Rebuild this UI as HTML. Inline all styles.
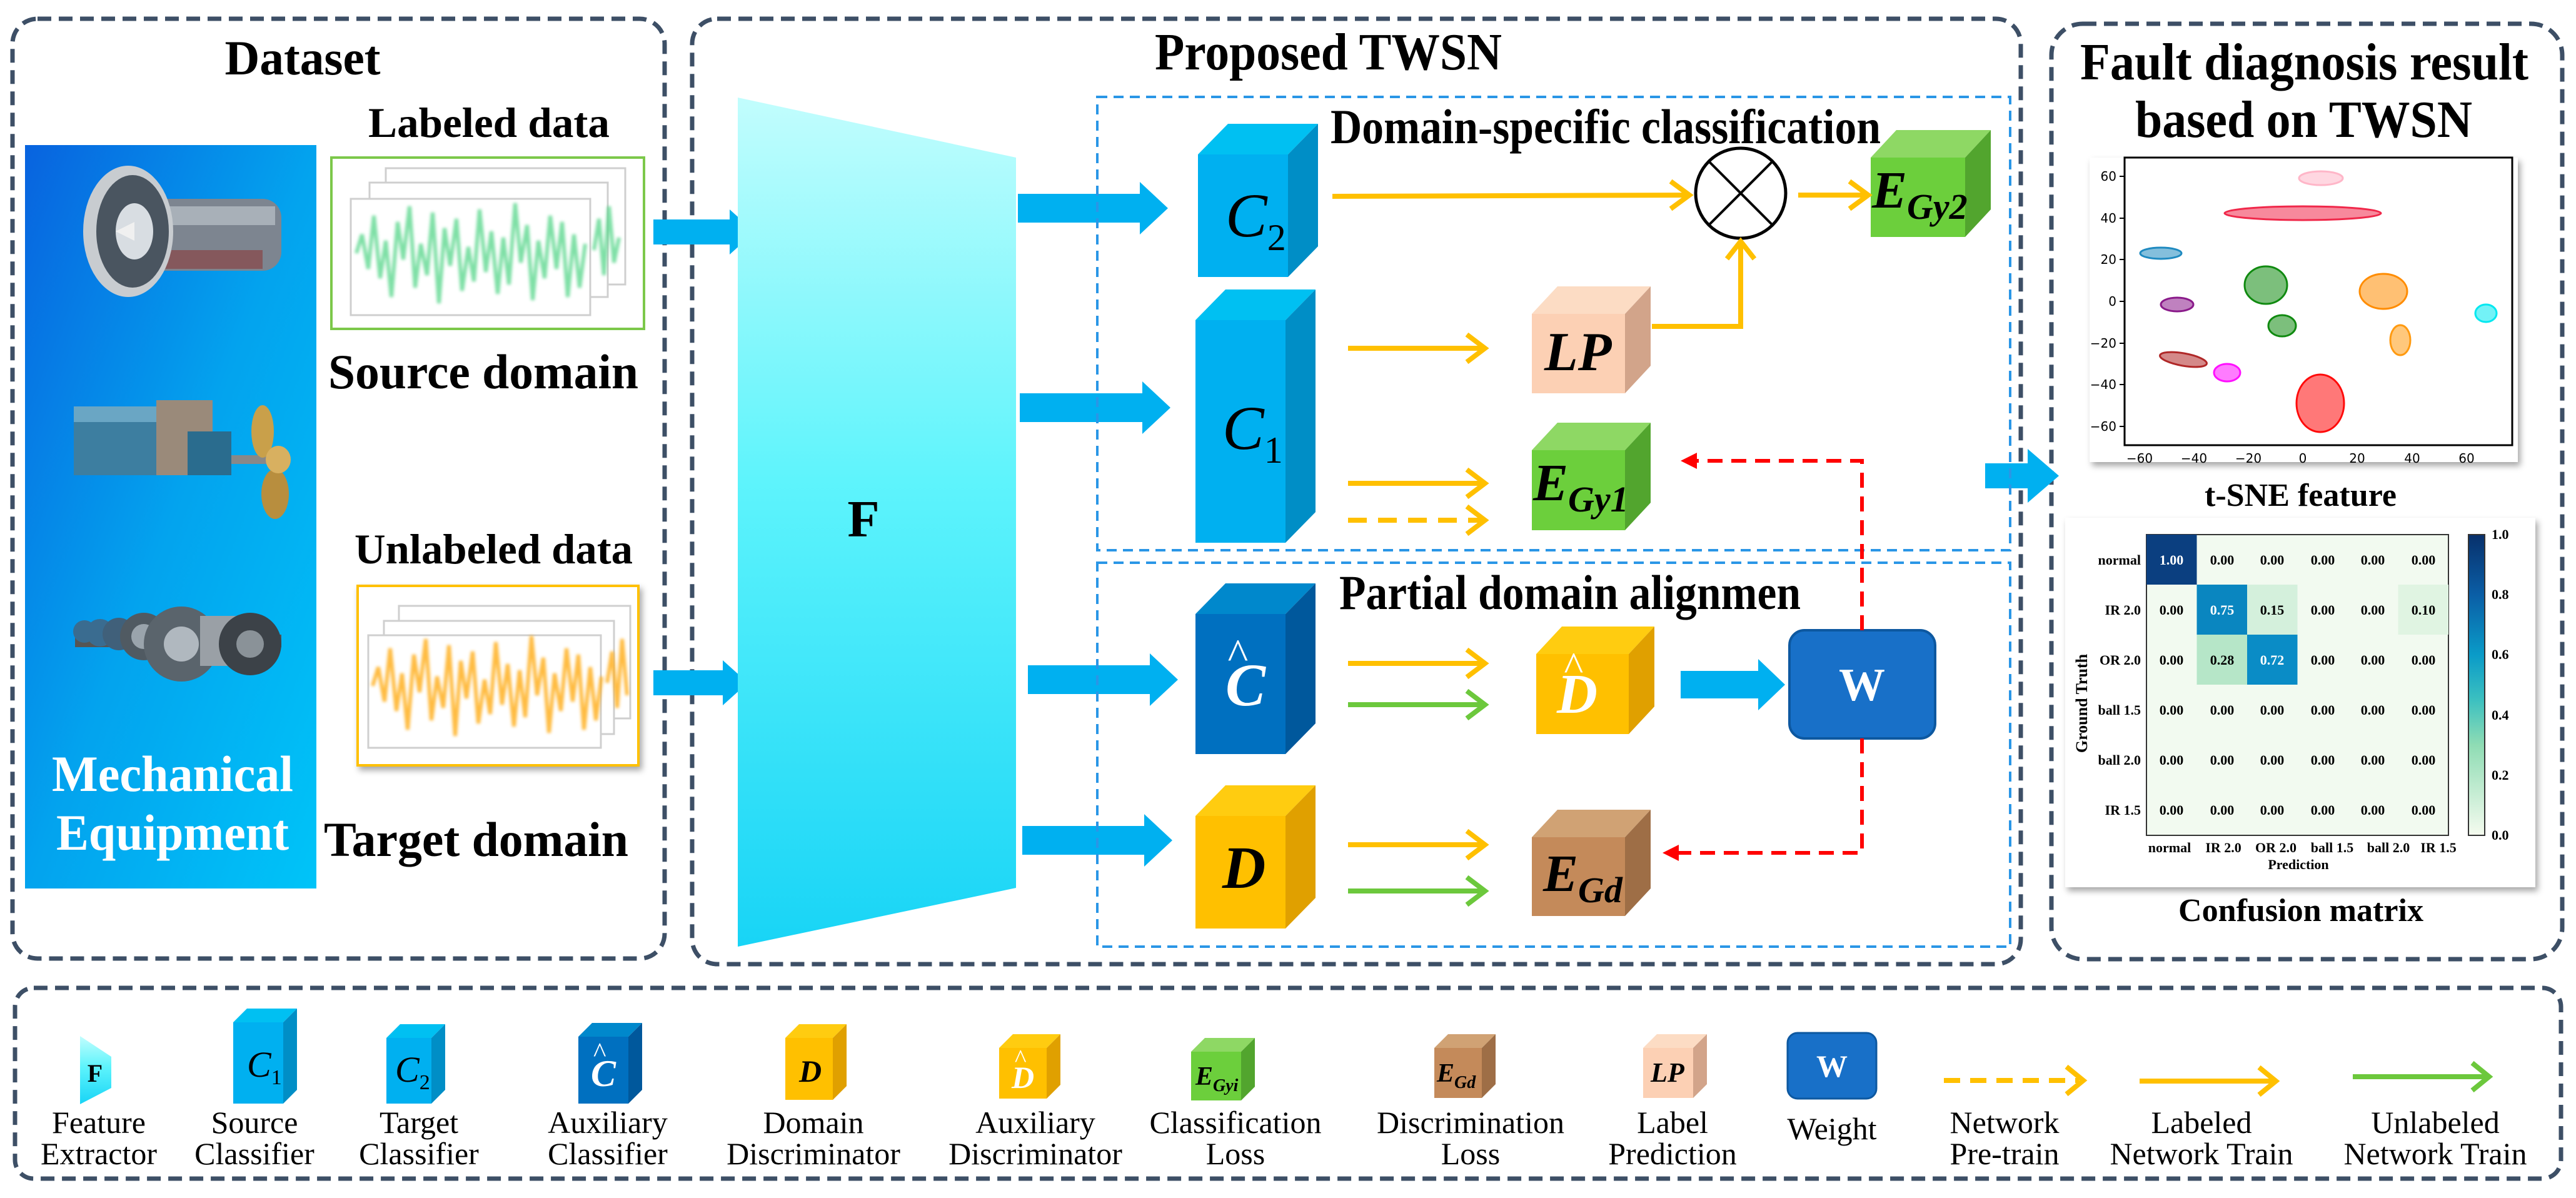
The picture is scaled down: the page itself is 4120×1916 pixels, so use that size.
<!DOCTYPE html>
<html><head><meta charset="utf-8"><style>
html,body{margin:0;padding:0;background:#fff;}
svg{display:block;}
</style></head><body>
<svg width="4120" height="1916" viewBox="0 0 4120 1916" xmlns="http://www.w3.org/2000/svg" font-family="Liberation Serif, serif">
<defs>
<linearGradient id="mech" x1="0" y1="0" x2="1" y2="1"><stop offset="0" stop-color="#0863df"/><stop offset="0.5" stop-color="#03a3ee"/><stop offset="1" stop-color="#00c4f8"/></linearGradient>
<linearGradient id="fg" x1="0" y1="0" x2="0" y2="1"><stop offset="0" stop-color="#c2fdfd"/><stop offset="0.45" stop-color="#5ef4fc"/><stop offset="1" stop-color="#18d4f6"/></linearGradient>
<linearGradient id="cb" x1="0" y1="0" x2="0" y2="1"><stop offset="0" stop-color="#08306b"/><stop offset="0.2" stop-color="#0a5ea6"/><stop offset="0.4" stop-color="#0a9bc8"/><stop offset="0.55" stop-color="#3cc0c0"/><stop offset="0.7" stop-color="#8fdcb4"/><stop offset="1" stop-color="#f5fbef"/></linearGradient>
<filter id="bl"><feGaussianBlur stdDeviation="2.5"/></filter>
<filter id="sh"><feDropShadow dx="4" dy="6" stdDeviation="5" flood-color="#000" flood-opacity="0.35"/></filter>
</defs>

<!-- panels -->
<g fill="none" stroke="#3d4f66" stroke-width="7" stroke-dasharray="22 12">
<rect x="20" y="30" width="1043" height="1503" rx="40"/>
<rect x="1107" y="30" width="2125" height="1512" rx="40"/>
<rect x="3281" y="38" width="817" height="1496" rx="50"/>
<rect x="24" y="1580" width="4072" height="305" rx="30"/>
</g>

<!-- Dataset -->
<text x="484" y="119" font-size="78" font-weight="bold" text-anchor="middle" textLength="249" lengthAdjust="spacingAndGlyphs">Dataset</text>
<rect x="40" y="232" width="466" height="1189" fill="url(#mech)"/>
<!-- turbine -->
<g>
<rect x="220" y="318" width="230" height="115" rx="30" fill="#7d8590"/>
<rect x="240" y="330" width="200" height="30" fill="#a8b0b8"/>
<rect x="260" y="400" width="160" height="30" fill="#8a3a3a" opacity="0.6"/>
<ellipse cx="205" cy="370" rx="72" ry="105" fill="#c8ccd0"/>
<ellipse cx="212" cy="370" rx="58" ry="90" fill="#4a5560"/>
<ellipse cx="215" cy="370" rx="30" ry="45" fill="#d8dde2"/>
<polygon points="185,370 215,355 215,385" fill="#f0f0f0"/>
</g>
<!-- ship engine -->
<g>
<rect x="118" y="650" width="190" height="110" fill="#3d7ea0"/>
<rect x="118" y="650" width="190" height="25" fill="#6aa6c4"/>
<rect x="250" y="640" width="90" height="120" fill="#9a8a7a"/>
<rect x="300" y="690" width="70" height="70" fill="#2a6c8e"/>
<rect x="370" y="728" width="90" height="14" fill="#888"/>
<ellipse cx="420" cy="690" rx="18" ry="42" fill="#c9a04a"/>
<ellipse cx="440" cy="790" rx="22" ry="40" fill="#b88e3e"/>
<ellipse cx="445" cy="735" rx="20" ry="22" fill="#d8b060"/>
</g>
<!-- train wheels -->
<g>
<rect x="120" y="1015" width="330" height="20" fill="#555"/>
<circle cx="135" cy="1010" r="18" fill="#3a6c90"/><circle cx="160" cy="1012" r="22" fill="#3a6c90"/><circle cx="190" cy="1014" r="26" fill="#40607a"/>
<circle cx="230" cy="1018" r="38" fill="#505a62"/><circle cx="230" cy="1018" r="20" fill="#9aa4ac"/>
<circle cx="290" cy="1030" r="60" fill="#5a646c"/><circle cx="290" cy="1030" r="28" fill="#b0b8bf"/>
<rect x="320" y="985" width="70" height="80" fill="#9aa0a6"/>
<circle cx="400" cy="1030" r="50" fill="#3c4248"/><circle cx="400" cy="1030" r="22" fill="#8a9298"/>
</g>
<text x="83" y="1265" font-size="82" font-weight="bold" fill="#fff" textLength="386" lengthAdjust="spacingAndGlyphs">Mechanical</text>
<text x="90" y="1359" font-size="82" font-weight="bold" fill="#fff" textLength="372" lengthAdjust="spacingAndGlyphs">Equipment</text>

<text x="589" y="219" font-size="68" font-weight="bold" textLength="386" lengthAdjust="spacingAndGlyphs">Labeled data</text>
<rect x="530" y="252" width="500" height="274" fill="#fff" stroke="#7cc84a" stroke-width="4"/>
<g fill="#fff" stroke="#cfcfcf" stroke-width="3">
<rect x="617" y="269" width="383" height="186"/><rect x="591" y="292" width="381" height="183"/><rect x="561" y="318" width="383" height="186"/>
</g>
<g id="sig" fill="none" stroke="#5fd890" stroke-width="6" filter="url(#bl)" opacity="0.8">
<polyline points="570,405 579,375 589,430 598,345 608,445 617,385 626,475 636,355 645,415 655,330 664,460 673,390 683,440 692,340 702,485 711,365 720,425 730,350 739,465 749,395 758,450 767,335 777,435 786,370 796,470 805,380 814,455 824,325 833,420 843,360 852,480 861,385 871,445 880,345 890,430 899,355 908,475 918,375 927,460 936,390"/>
<polyline points="950,400 958,350 966,440 974,330 982,420 990,380"/>
</g>
<text x="525" y="621" font-size="78" font-weight="bold" textLength="496" lengthAdjust="spacingAndGlyphs">Source domain</text>

<text x="567" y="901" font-size="68" font-weight="bold" textLength="445" lengthAdjust="spacingAndGlyphs">Unlabeled data</text>
<rect x="572" y="937" width="449" height="287" fill="#fff" stroke="#ffc000" stroke-width="4" filter="url(#sh)"/>
<g fill="#fff" stroke="#cfcfcf" stroke-width="3">
<rect x="638" y="969" width="370" height="180"/><rect x="614" y="993" width="368" height="181"/><rect x="589" y="1016" width="372" height="180"/>
</g>
<g fill="none" stroke="#ffb020" stroke-width="6" filter="url(#bl)" opacity="0.85" transform="translate(26,692)">
<polyline points="570,405 579,375 589,430 598,345 608,445 617,385 626,475 636,355 645,415 655,330 664,460 673,390 683,440 692,340 702,485 711,365 720,425 730,350 739,465 749,395 758,450 767,335 777,435 786,370 796,470 805,380 814,455 824,325 833,420 843,360 852,480 861,385 871,445 880,345 890,430 899,355 908,475 918,375 927,460 936,390"/>
<polyline points="945,400 953,350 961,440 969,330 977,420"/>
</g>
<text x="518" y="1369" font-size="78" font-weight="bold" textLength="487" lengthAdjust="spacingAndGlyphs">Target domain</text>

<!-- block arrows -->
<g fill="#00b0f0">
<polygon points="1045,351 1167,351 1167,335 1207,371 1167,407 1167,391 1045,391"/>
<polygon points="1045,1072 1156,1072 1156,1056 1196,1092 1156,1128 1156,1112 1045,1112"/>
<polygon points="1628,310 1823,310 1823,291 1868,333 1823,375 1823,356 1628,356"/>
<polygon points="1631,629 1827,629 1827,610 1872,652 1827,694 1827,675 1631,675"/>
<polygon points="1644,1064 1839,1064 1839,1045 1884,1087 1839,1129 1839,1110 1644,1110"/>
<polygon points="1635,1321 1830,1321 1830,1302 1875,1344 1830,1386 1830,1367 1635,1367"/>
<polygon points="2688,1073 2812,1073 2812,1054 2855,1095 2812,1136 2812,1117 2688,1117"/>
<polygon points="3175,741 3243,741 3243,718 3293,761 3243,804 3243,781 3175,781"/>
</g>

<!-- Proposed -->
<text x="1847" y="111" font-size="84" font-weight="bold" textLength="555" lengthAdjust="spacingAndGlyphs">Proposed TWSN</text>
<polygon points="1180,156 1625,252 1625,1420 1180,1514" fill="url(#fg)"/>
<text x="1381" y="858" font-size="84" font-weight="bold" text-anchor="middle">F</text>

<rect x="1755" y="155" width="1460" height="725" fill="none" stroke="#2a96e6" stroke-width="4" stroke-dasharray="16 10"/>
<rect x="1755" y="900" width="1460" height="614" fill="none" stroke="#2a96e6" stroke-width="4" stroke-dasharray="16 10"/>
<text x="2128" y="229" font-size="78" font-weight="bold" textLength="880" lengthAdjust="spacingAndGlyphs">Domain-specific classification</text>
<text x="2142" y="974" font-size="78" font-weight="bold" textLength="738" lengthAdjust="spacingAndGlyphs">Partial domain alignmen</text>

<!-- cubes -->
<g>
<rect x="1916" y="247" width="144" height="196" fill="#00b0f0"/><polygon points="1916,247 1964,198 2108,198 2060,247" fill="#00c0f2"/><polygon points="2060,247 2108,198 2108,394 2060,443" fill="#008ec6"/>
<rect x="1912" y="512" width="144" height="356" fill="#00b0f0"/><polygon points="1912,512 1960,463 2104,463 2056,512" fill="#00c0f2"/><polygon points="2056,512 2104,463 2104,819 2056,868" fill="#008ec6"/>
<rect x="1912" y="982" width="144" height="224" fill="#0070c0"/><polygon points="1912,982 1960,933 2104,933 2056,982" fill="#0088cc"/><polygon points="2056,982 2104,933 2104,1157 2056,1206" fill="#00589c"/>
<rect x="1912" y="1305" width="144" height="180" fill="#ffc000"/><polygon points="1912,1305 1960,1256 2104,1256 2056,1305" fill="#ffcc10"/><polygon points="2056,1305 2104,1256 2104,1436 2056,1485" fill="#e0a000"/>
<rect x="2450" y="502" width="149" height="127" fill="#fcd0b4"/><polygon points="2450,502 2491,458 2640,458 2599,502" fill="#fcdcc4"/><polygon points="2599,502 2640,458 2640,585 2599,629" fill="#d2a48a"/>
<rect x="2450" y="720" width="149" height="128" fill="#6ccf3c"/><polygon points="2450,720 2491,676 2640,676 2599,720" fill="#8ed864"/><polygon points="2599,720 2640,676 2640,804 2599,848" fill="#52a52e"/>
<rect x="2992" y="252" width="151" height="127" fill="#6ccf3c"/><polygon points="2992,252 3033,208 3184,208 3143,252" fill="#8ed864"/><polygon points="3143,252 3184,208 3184,335 3143,379" fill="#52a52e"/>
<rect x="2457" y="1046" width="148" height="128" fill="#ffc000"/><polygon points="2457,1046 2498,1002 2646,1002 2605,1046" fill="#ffcc10"/><polygon points="2605,1046 2646,1002 2646,1130 2605,1174" fill="#e0a000"/>
<rect x="2450" y="1339" width="149" height="126" fill="#c48a5a"/><polygon points="2450,1339 2491,1295 2640,1295 2599,1339" fill="#d0a274"/><polygon points="2599,1339 2640,1295 2640,1421 2599,1465" fill="#9e6e46"/>
</g>
<g font-style="italic">
<text x="1960" y="378" font-size="100">C<tspan font-size="60" font-style="normal" dy="22">2</tspan></text>
<text x="1955" y="718" font-size="100">C<tspan font-size="60" font-style="normal" dy="22">1</tspan></text>
<text x="1960" y="1128" font-size="96" font-weight="bold" fill="#fff">C</text><text x="1962" y="1070" font-size="70" fill="#fff">^</text>
<text x="1955" y="1420" font-size="96" font-weight="bold">D</text>
<text x="2470" y="592" font-size="88" font-weight="bold">LP</text>
<text x="2452" y="800" font-size="84" font-weight="bold">E<tspan font-size="58" dy="18">Gy1</tspan></text>
<text x="2994" y="332" font-size="84" font-weight="bold">E<tspan font-size="58" dy="18">Gy2</tspan></text>
<text x="2490" y="1140" font-size="90" font-weight="bold" fill="#fff">D</text><text x="2500" y="1088" font-size="66" fill="#fff">^</text>
<text x="2468" y="1425" font-size="84" font-weight="bold">E<tspan font-size="58" dy="18">Gd</tspan></text>
</g>

<!-- W -->
<rect x="2862" y="1008" width="233" height="173" rx="24" fill="#1870c8" stroke="#0d58a0" stroke-width="4"/>
<text x="2978" y="1120" font-size="74" font-weight="bold" fill="#fff" text-anchor="middle">W</text>

<!-- otimes -->
<circle cx="2784" cy="309" r="72" fill="#fff" stroke="#000" stroke-width="5"/>
<line x1="2733" y1="258" x2="2835" y2="360" stroke="#000" stroke-width="4"/><line x1="2835" y1="258" x2="2733" y2="360" stroke="#000" stroke-width="4"/>

<!-- line arrows -->
<g fill="none" stroke="#ffc000" stroke-width="8" stroke-linejoin="miter">
<path d="M2131,314 L2700,312"/><polyline points="2672,290 2702,312 2672,334"/>
<path d="M2876,312 L2985,312"/><polyline points="2958,290 2988,312 2958,334"/>
<path d="M2642,522 H2784 V390"/><polyline points="2762,414 2784,386 2806,414"/>
<path d="M2156,557 H2370"/><polyline points="2346,535 2375,557 2346,579"/>
<path d="M2156,773 H2370"/><polyline points="2346,751 2375,773 2346,795"/>
<path d="M2156,832 H2370" stroke-dasharray="30 18"/><polyline points="2346,810 2375,832 2346,854"/>
<path d="M2156,1061 H2370"/><polyline points="2346,1039 2375,1061 2346,1083"/>
<path d="M2156,1351 H2370"/><polyline points="2346,1329 2375,1351 2346,1373"/>
</g>
<g fill="none" stroke="#6cc83c" stroke-width="8">
<path d="M2156,1127 H2370"/><polyline points="2346,1105 2375,1127 2346,1149"/>
<path d="M2156,1425 H2370"/><polyline points="2346,1403 2375,1425 2346,1447"/>
</g>
<!-- red dashed -->
<g fill="none" stroke="#ff0000" stroke-width="6" stroke-dasharray="24 14">
<path d="M2978,1008 V737 H2706"/><path d="M2978,1181 V1364 H2678"/>
</g>
<polygon points="2688,737 2714,724 2714,750" fill="#ff0000"/>
<polygon points="2659,1364 2685,1351 2685,1377" fill="#ff0000"/>

<!-- Fault panel -->
<text x="3327" y="127" font-size="84" font-weight="bold" textLength="717" lengthAdjust="spacingAndGlyphs">Fault diagnosis result</text>
<text x="3415" y="219" font-size="84" font-weight="bold" textLength="539" lengthAdjust="spacingAndGlyphs">based on TWSN</text>
<rect x="3342" y="252" width="685" height="487" fill="#fff" filter="url(#sh)"/>
<rect x="3398" y="252" width="620" height="460" fill="#fff" stroke="#000" stroke-width="3"/>
<g font-family="DejaVu Sans, sans-serif" font-size="20" text-anchor="end">
<text x="3385" y="289">60</text><text x="3385" y="356">40</text><text x="3385" y="422">20</text><text x="3385" y="489">0</text><text x="3385" y="556">−20</text><text x="3385" y="622">−40</text><text x="3385" y="689">−60</text>
</g>
<g stroke="#000" stroke-width="2">
<line x1="3390" y1="282" x2="3398" y2="282"/><line x1="3390" y1="349" x2="3398" y2="349"/><line x1="3390" y1="415" x2="3398" y2="415"/><line x1="3390" y1="482" x2="3398" y2="482"/><line x1="3390" y1="549" x2="3398" y2="549"/><line x1="3390" y1="615" x2="3398" y2="615"/><line x1="3390" y1="682" x2="3398" y2="682"/>
</g>
<g font-family="DejaVu Sans, sans-serif" font-size="20" text-anchor="middle">
<text x="3422" y="740">−60</text><text x="3509" y="740">−40</text><text x="3596" y="740">−20</text><text x="3683" y="740">0</text><text x="3770" y="740">20</text><text x="3858" y="740">40</text><text x="3945" y="740">60</text>
</g>
<g stroke-width="3" fill-opacity="0.55">
<ellipse cx="3712" cy="285" rx="35" ry="11" fill="#ffb6c8" stroke="#ffb6c8"/>
<ellipse cx="3683" cy="341" rx="125" ry="11" fill="#f0284a" stroke="#f0284a"/>
<ellipse cx="3456" cy="405" rx="33" ry="9" fill="#1f8ac0" stroke="#1f8ac0"/>
<ellipse cx="3624" cy="456" rx="34" ry="30" fill="#108a10" stroke="#108a10"/>
<ellipse cx="3482" cy="487" rx="26" ry="11" fill="#8a1a8a" stroke="#8a1a8a"/>
<ellipse cx="3650" cy="521" rx="22" ry="17" fill="#108a10" stroke="#108a10"/>
<ellipse cx="3812" cy="466" rx="38" ry="28" fill="#ff8c00" stroke="#ff8c00"/>
<ellipse cx="3976" cy="501" rx="17" ry="14" fill="#00e8f0" stroke="#00e8f0"/>
<ellipse cx="3839" cy="544" rx="16" ry="24" fill="#ff9a10" stroke="#ff9a10"/>
<ellipse cx="3492" cy="575" rx="38" ry="10" fill="#b02828" stroke="#b02828" transform="rotate(10 3492 575)"/>
<ellipse cx="3562" cy="596" rx="21" ry="14" fill="#ff10ff" stroke="#ff10ff"/>
<ellipse cx="3711" cy="645" rx="38" ry="46" fill="#ff0a0a" stroke="#ff0a0a"/>
</g>
<text x="3526" y="809" font-size="52" font-weight="bold" textLength="307" lengthAdjust="spacingAndGlyphs">t-SNE feature</text>

<rect x="3303" y="828" width="752" height="591" fill="#fff" filter="url(#sh)"/>
<rect x="3433" y="855" width="483" height="481" fill="#f2faf0" stroke="#333" stroke-width="2"/>
<rect x="3433" y="855" width="80.5" height="80" fill="#0b3f80"/>
<rect x="3513.5" y="935" width="80.5" height="80" fill="#0a86c0"/>
<rect x="3594" y="935" width="80.5" height="80" fill="#d4f0dc"/>
<rect x="3835.5" y="935" width="80.5" height="80" fill="#e0f4e2"/>
<rect x="3513.5" y="1015" width="80.5" height="80" fill="#b6e6c8"/>
<rect x="3594" y="1015" width="80.5" height="80" fill="#0a8cc6"/>
<g font-size="22" font-weight="bold" text-anchor="middle">
<text x="3473" y="903" fill="#fff">1.00</text><text x="3554" y="903">0.00</text><text x="3634" y="903">0.00</text><text x="3715" y="903">0.00</text><text x="3795" y="903">0.00</text><text x="3876" y="903">0.00</text>
<text x="3473" y="983">0.00</text><text x="3554" y="983" fill="#fff">0.75</text><text x="3634" y="983">0.15</text><text x="3715" y="983">0.00</text><text x="3795" y="983">0.00</text><text x="3876" y="983">0.10</text>
<text x="3473" y="1063">0.00</text><text x="3554" y="1063">0.28</text><text x="3634" y="1063" fill="#fff">0.72</text><text x="3715" y="1063">0.00</text><text x="3795" y="1063">0.00</text><text x="3876" y="1063">0.00</text>
<text x="3473" y="1143">0.00</text><text x="3554" y="1143">0.00</text><text x="3634" y="1143">0.00</text><text x="3715" y="1143">0.00</text><text x="3795" y="1143">0.00</text><text x="3876" y="1143">0.00</text>
<text x="3473" y="1223">0.00</text><text x="3554" y="1223">0.00</text><text x="3634" y="1223">0.00</text><text x="3715" y="1223">0.00</text><text x="3795" y="1223">0.00</text><text x="3876" y="1223">0.00</text>
<text x="3473" y="1303">0.00</text><text x="3554" y="1303">0.00</text><text x="3634" y="1303">0.00</text><text x="3715" y="1303">0.00</text><text x="3795" y="1303">0.00</text><text x="3876" y="1303">0.00</text>
</g>
<g font-size="22" font-weight="bold" text-anchor="end">
<text x="3424" y="903">normal</text><text x="3424" y="983">IR 2.0</text><text x="3424" y="1063">OR 2.0</text><text x="3424" y="1143">ball 1.5</text><text x="3424" y="1223">ball 2.0</text><text x="3424" y="1303">IR 1.5</text>
</g>
<g font-size="22" font-weight="bold" text-anchor="middle">
<text x="3470" y="1363">normal</text><text x="3556" y="1363">IR 2.0</text><text x="3640" y="1363">OR 2.0</text><text x="3730" y="1363">ball 1.5</text><text x="3820" y="1363">ball 2.0</text><text x="3900" y="1363">IR 1.5</text>
<text x="3676" y="1390">Prediction</text>
</g>
<text x="0" y="0" font-size="26" font-weight="bold" text-anchor="middle" transform="translate(3338,1125) rotate(-90)">Ground Truth</text>
<rect x="3948" y="855" width="26" height="481" fill="url(#cb)" stroke="#333" stroke-width="2"/>
<g font-size="22" font-weight="bold">
<text x="3985" y="862">1.0</text><text x="3985" y="958">0.8</text><text x="3985" y="1054">0.6</text><text x="3985" y="1151">0.4</text><text x="3985" y="1247">0.2</text><text x="3985" y="1343">0.0</text>
</g>
<text x="3484" y="1473" font-size="52" font-weight="bold" textLength="392" lengthAdjust="spacingAndGlyphs">Confusion matrix</text>

<!-- Legend -->
<polygon points="128,1657 178,1690 178,1740 128,1766" fill="url(#fg)"/>
<text x="152" y="1730" font-size="40" font-weight="bold" text-anchor="middle">F</text>
<g>
<rect x="373" y="1635" width="80" height="130" fill="#00b0f0"/><polygon points="373,1635 395,1613 475,1613 453,1635" fill="#00c0f2"/><polygon points="453,1635 475,1613 475,1743 453,1765" fill="#008ec6"/>
<rect x="618" y="1660" width="72" height="105" fill="#00b0f0"/><polygon points="618,1660 640,1638 712,1638 690,1660" fill="#00c0f2"/><polygon points="690,1660 712,1638 712,1743 690,1765" fill="#008ec6"/>
<rect x="925" y="1658" width="80" height="107" fill="#0070c0"/><polygon points="925,1658 947,1636 1027,1636 1005,1658" fill="#0088cc"/><polygon points="1005,1658 1027,1636 1027,1743 1005,1765" fill="#00589c"/>
<rect x="1256" y="1660" width="76" height="99" fill="#ffc000"/><polygon points="1256,1660 1278,1638 1354,1638 1332,1660" fill="#ffcc10"/><polygon points="1332,1660 1354,1638 1354,1737 1332,1759" fill="#e0a000"/>
<rect x="1598" y="1676" width="76" height="81" fill="#ffc000"/><polygon points="1598,1676 1620,1654 1696,1654 1674,1676" fill="#ffcc10"/><polygon points="1674,1676 1696,1654 1696,1735 1674,1757" fill="#e0a000"/>
<rect x="1905" y="1682" width="80" height="78" fill="#6ccf3c"/><polygon points="1905,1682 1927,1660 2007,1660 1985,1682" fill="#8ed864"/><polygon points="1985,1682 2007,1660 2007,1738 1985,1760" fill="#52a52e"/>
<rect x="2294" y="1676" width="76" height="80" fill="#c48a5a"/><polygon points="2294,1676 2316,1654 2392,1654 2370,1676" fill="#d0a274"/><polygon points="2370,1676 2392,1654 2392,1734 2370,1756" fill="#9e6e46"/>
<rect x="2628" y="1676" width="80" height="80" fill="#fcd0b4"/><polygon points="2628,1676 2650,1654 2730,1654 2708,1676" fill="#fcdcc4"/><polygon points="2708,1676 2730,1654 2730,1734 2708,1756" fill="#d2a48a"/>
<rect x="2859" y="1652" width="142" height="105" rx="16" fill="#1870c8" stroke="#0d58a0" stroke-width="3"/>
</g>
<g font-style="italic">
<text x="395" y="1722" font-size="58">C<tspan font-size="34" font-style="normal" dy="12">1</tspan></text>
<text x="632" y="1730" font-size="58">C<tspan font-size="34" font-style="normal" dy="12">2</tspan></text>
<text x="945" y="1737" font-size="60" font-weight="bold" fill="#fff">C</text><text x="948" y="1698" font-size="44" fill="#fff">^</text>
<text x="1278" y="1730" font-size="50" font-weight="bold">D</text>
<text x="1618" y="1740" font-size="50" font-weight="bold" fill="#fff">D</text><text x="1622" y="1706" font-size="40" fill="#fff">^</text>
<text x="1912" y="1735" font-size="42" font-weight="bold">E<tspan font-size="28" dy="10">Gyi</tspan></text>
<text x="2298" y="1730" font-size="42" font-weight="bold">E<tspan font-size="28" dy="10">Gd</tspan></text>
<text x="2640" y="1730" font-size="44" font-weight="bold">LP</text>
</g>
<text x="2930" y="1722" font-size="50" font-weight="bold" fill="#fff" text-anchor="middle">W</text>
<g fill="none" stroke-width="8">
<path d="M3109,1728 H3325" stroke="#ffc000" stroke-dasharray="26 16"/><polyline points="3305,1706 3332,1728 3305,1750" stroke="#ffc000"/>
<path d="M3422,1729 H3635" stroke="#ffc000"/><polyline points="3613,1707 3640,1729 3613,1751" stroke="#ffc000"/>
<path d="M3763,1722 H3976" stroke="#6cc83c"/><polyline points="3954,1700 3981,1722 3954,1744" stroke="#6cc83c"/>
</g>
<g font-size="50" text-anchor="middle">
<text x="158" y="1812">Feature</text><text x="158" y="1862">Extractor</text>
<text x="407" y="1812">Source</text><text x="407" y="1862">Classifier</text>
<text x="670" y="1812">Target</text><text x="670" y="1862">Classifier</text>
<text x="972" y="1812">Auxiliary</text><text x="972" y="1862">Classifier</text>
<text x="1301" y="1812">Domain</text><text x="1301" y="1862">Discriminator</text>
<text x="1656" y="1812">Auxiliary</text><text x="1656" y="1862">Discriminator</text>
<text x="1976" y="1812">Classification</text><text x="1976" y="1862">Loss</text>
<text x="2352" y="1812">Discrimination</text><text x="2352" y="1862">Loss</text>
<text x="2675" y="1812">Label</text><text x="2675" y="1862">Prediction</text>
<text x="2930" y="1822">Weight</text>
<text x="3206" y="1812">Network</text><text x="3206" y="1862">Pre-train</text>
<text x="3521" y="1812">Labeled</text><text x="3521" y="1862">Network Train</text>
<text x="3895" y="1812">Unlabeled</text><text x="3895" y="1862">Network Train</text>
</g>
</svg>
</body></html>
